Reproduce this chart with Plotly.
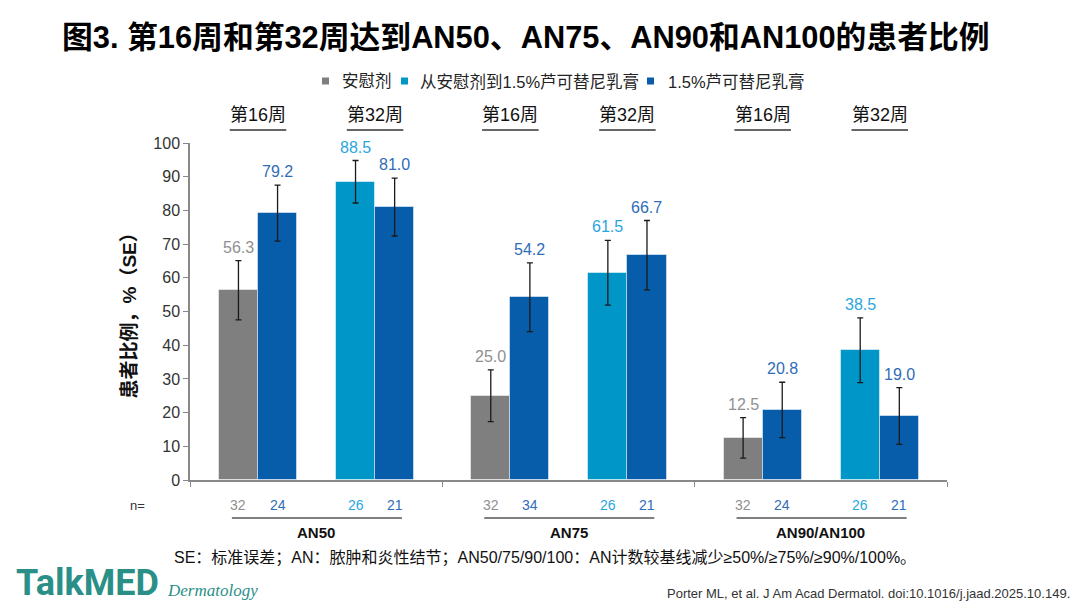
import plotly.graph_objects as go

# data
groups = ["AN50", "AN75", "AN90/AN100"]
placebo_16 = [56.3, 25.0, 12.5]
placebo_16_se = [8.8, 7.7, 6.0]
rux_16 = [79.2, 54.2, 20.8]
rux_16_se = [8.3, 10.2, 8.2]
switch_32 = [88.5, 61.5, 38.5]
switch_32_se = [6.3, 9.6, 9.6]
rux_32 = [81.0, 66.7, 19.0]
rux_32_se = [8.6, 10.3, 8.4]
n_placebo = [32, 32, 32]
n_rux_16 = [24, 34, 24]
n_switch = [26, 26, 26]
n_rux_32 = [21, 21, 21]
week_labels = ["第16周", "第32周"]
series_names = ["安慰剂", "从安慰剂到1.5%芦可替尼乳膏", "1.5%芦可替尼乳膏"]
y_ticks = list(range(0, 101, 10))

GRAY = "#7f7f7f"
LIGHT = "#0096c8"
DARK = "#075da9"
GRAY_TXT = "#909090"
LIGHT_TXT = "#2aa6de"
DARK_TXT = "#2f6db8"
CJK = "Liberation Sans, Noto Sans CJK SC"

# slot offsets inside each group (x axis: one unit per group)
slot = [0.192, 0.347, 0.656, 0.811]
bar_w = 0.155
g_idx = list(range(len(groups)))


def xs(k):
    return [g + slot[k] for g in g_idx]


# the page body adds 8px, so the figure is drawn 8px smaller than the window
OFF = 8
W, H = 1080 - OFF, 608 - OFF
L, R, T, B = 190 - OFF, 947 - OFF, 143 - OFF, 480 - OFF


def py(p):
    return (B - (p - OFF)) / (B - T)


def px(p):
    return ((p - OFF) - L) / (R - L)


fig = go.Figure()

err = dict(type="data", color="#1a1a1a", thickness=1.3, width=3)
line = dict(color="rgba(255,255,255,0.5)", width=1)

fig.add_trace(go.Bar(x=xs(0), y=placebo_16, width=bar_w, name=series_names[0],
                     marker=dict(color=GRAY, line=line),
                     error_y=dict(array=placebo_16_se, **err)))
fig.add_trace(go.Bar(x=xs(2), y=switch_32, width=bar_w, name=series_names[1],
                     marker=dict(color=LIGHT, line=line),
                     error_y=dict(array=switch_32_se, **err)))
fig.add_trace(go.Bar(x=xs(1) + xs(3), y=rux_16 + rux_32, width=bar_w, name=series_names[2],
                     marker=dict(color=DARK, line=line),
                     error_y=dict(array=rux_16_se + rux_32_se, **err)))

ann = []
shapes = []


def note(x, y, text, size, color, family=CJK, xanchor="center", **kw):
    ann.append(dict(x=x, y=y, xref=kw.pop("xref", "paper"), yref=kw.pop("yref", "paper"),
                    text=text, showarrow=False, xanchor=xanchor, yanchor=kw.pop("yanchor", "middle"),
                    font=dict(size=size, color=color, family=family), **kw))


# value labels above error bars
for k, vals, ses, col in [(0, placebo_16, placebo_16_se, GRAY_TXT),
                          (1, rux_16, rux_16_se, DARK_TXT),
                          (2, switch_32, switch_32_se, LIGHT_TXT),
                          (3, rux_32, rux_32_se, DARK_TXT)]:
    for x, v, s in zip(xs(k), vals, ses):
        note(x, v + s, f"{v:.1f}", 16, col, "Liberation Sans", xref="x", yref="y",
             yanchor="bottom", yshift=3)

# legend drawn as small squares + text
for name, col, sq_x, tx_x in zip(series_names, [GRAY, LIGHT, DARK], [322, 401, 647], [340, 418, 666]):
    shapes.append(dict(type="rect", xref="paper", yref="paper", x0=px(sq_x), x1=px(sq_x + 7),
                       y0=py(84.5), y1=py(77.5), fillcolor=col, line=dict(width=0)))
    note(px(tx_x), py(81), name, 16.5, "#222", xanchor="left")

# n= row
note(px(137), py(505), "n=", 13, "#333", "Liberation Sans")
for k, ns, col in [(0, n_placebo, GRAY_TXT), (1, n_rux_16, DARK_TXT),
                   (2, n_switch, LIGHT_TXT), (3, n_rux_32, DARK_TXT)]:
    for x, n in zip(xs(k), ns):
        note(x, py(505), str(n), 14, col, "Liberation Sans", xref="x")

for g, name in zip(g_idx, groups):
    # group label + underline
    note(g + 0.5, py(532), f"<b>{name}</b>", 15, "#111", "Liberation Sans", xref="x")
    shapes.append(dict(type="line", xref="x", yref="paper", x0=g + 0.166, x1=g + 0.84,
                       y0=py(518), y1=py(518), line=dict(color="#555", width=1.3)))
    # week labels above each pair
    for w, c in zip(week_labels, [g + (slot[0] + slot[1]) / 2, g + (slot[2] + slot[3]) / 2]):
        note(c, py(115), w, 18, "#111", xref="x")
        shapes.append(dict(type="line", xref="x", yref="paper", x0=c - 0.112, x1=c + 0.112,
                           y0=py(130), y1=py(130), line=dict(color="#666", width=2)))

# y axis title
note(px(129), 0.5, "<b>患者比例，%（SE）</b>", 19, "#111", textangle=-90)

# footnote, logo, citation
note(px(545), py(558),
     "SE：标准误差；AN：脓肿和炎性结节；AN50/75/90/100：AN计数较基线减少≥50%/≥75%/≥90%/100%。",
     16, "#111")
note(px(14), py(583), "<b>TalkMED</b>", 36, "#2a8f87", "Roboto", xanchor="left")
note(px(165), py(590), "<i>Dermatology</i>", 17, "#2a8f87", "Liberation Serif", xanchor="left")
note(px(1072), py(593), "Porter ML, et al. J Am Acad Dermatol. doi:10.1016/j.jaad.2025.10.149.",
     13, "#333", "Liberation Sans Narrow, Liberation Sans", xanchor="right")

fig.update_layout(
    width=W, height=H,
    margin=dict(l=L, r=W - R, t=T, b=H - B),
    paper_bgcolor="white", plot_bgcolor="white",
    title=dict(text="<b>图3. 第16周和第32周达到AN50、AN75、AN90和AN100的患者比例</b>",
               x=(62 - OFF) / W, xanchor="left", y=1 - (37 - OFF) / H, yanchor="middle",
               font=dict(size=30.8, color="#000", family=CJK)),
    showlegend=False,
    xaxis=dict(range=[0, 3], tickvals=[0, 1, 2, 3], showticklabels=False, ticks="outside",
               ticklen=5, tickcolor="#888", showline=True, linecolor="#888", linewidth=1.5,
               showgrid=False, zeroline=False, fixedrange=True),
    yaxis=dict(range=[0, 100], tickvals=y_ticks, ticks="outside", ticklen=5, tickcolor="#888",
               showline=True, linecolor="#888", linewidth=1.5, showgrid=False, zeroline=False,
               tickfont=dict(size=16, color="#333", family="Liberation Sans")),
    annotations=ann, shapes=shapes,
    bargap=0,
)

fig.write_html("out.html")
